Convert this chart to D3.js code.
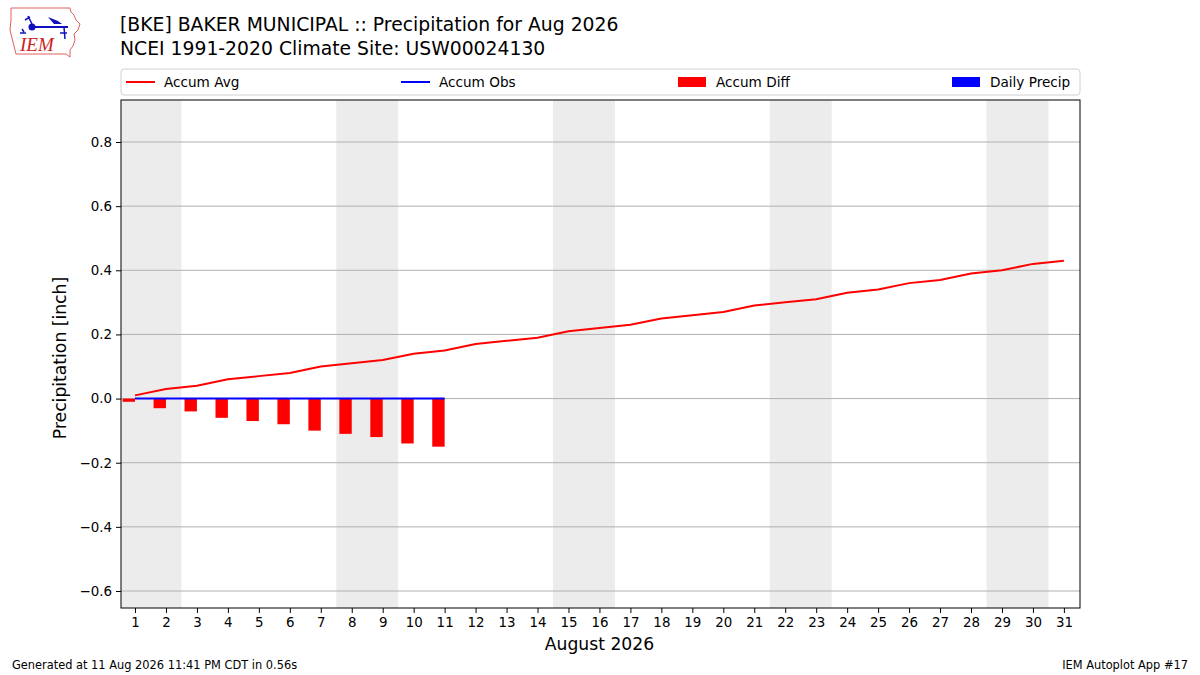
<!DOCTYPE html>
<html>
<head>
<meta charset="utf-8">
<script src="https://cdn.jsdelivr.net/npm/d3@7/dist/d3.min.js"></script>
<style>
  body { margin: 0; background: #fff; }
  svg { font-family: "DejaVu Sans", sans-serif; }
</style>
</head>
<body>
<div id="chart"></div>
<script>
// Precipitation accumulation chart for Aug 2026

var days = d3.range(1, 32);
var accumAvg = [0.01, 0.03, 0.04, 0.06, 0.07, 0.08, 0.10, 0.11, 0.12, 0.14, 0.15,
    0.17, 0.18, 0.19, 0.21, 0.22, 0.23, 0.25, 0.26, 0.27, 0.29, 0.30, 0.31,
    0.33, 0.34, 0.36, 0.37, 0.39, 0.40, 0.42, 0.43];
var obsDays = [1, 2, 3, 4, 5, 6, 7, 8, 9, 10, 11];
var accumObs = [0, 0, 0, 0, 0, 0, 0, 0, 0, 0, 0];
var accumDiff = [-0.01, -0.03, -0.04, -0.06, -0.07, -0.08, -0.10, -0.11, -0.12, -0.14, -0.15];
var dailyPrecip = [0, 0, 0, 0, 0, 0, 0, 0, 0, 0, 0];
var weekends = [[1, 2], [8, 9], [15, 16], [22, 23], [29, 30]];
var yTicks = [-0.6, -0.4, -0.2, 0.0, 0.2, 0.4, 0.6, 0.8];

var margin = {top: 100, right: 120, bottom: 67, left: 121};
var width = 1200, height = 675;
var w = width - margin.left - margin.right,
    h = height - margin.top - margin.bottom;

var svg = d3.select("#chart").append("svg")
    .attr("width", width)
    .attr("height", height);

var x = d3.scaleLinear().domain([0.548, 31.52]).range([0, w]);
var y = d3.scaleLinear().domain([-0.653, 0.931]).range([h, 0]);

var g = svg.append("g")
    .attr("transform", "translate(" + margin.left + "," + margin.top + ")");

g.append("clipPath").attr("id", "clip")
    .append("rect").attr("width", w).attr("height", h);

var plot = g.append("g").attr("clip-path", "url(#clip)");

// weekend shading
plot.selectAll("rect.wknd")
    .data(weekends)
    .enter().append("rect")
    .attr("class", "wknd")
    .attr("x", function(d) { return x(d[0] - 0.5); })
    .attr("width", function(d) { return x(d[1] + 0.5) - x(d[0] - 0.5); })
    .attr("y", 0)
    .attr("height", h)
    .attr("fill", "#ececec");

// grid
plot.selectAll("line.grid")
    .data(yTicks)
    .enter().append("line")
    .attr("class", "grid")
    .attr("x1", 0).attr("x2", w)
    .attr("y1", function(d) { return y(d); })
    .attr("y2", function(d) { return y(d); })
    .attr("stroke", "#b0b0b0")
    .attr("stroke-width", 1);

// accum diff bars
plot.selectAll("rect.diff")
    .data(accumDiff)
    .enter().append("rect")
    .attr("class", "diff")
    .attr("x", function(d, i) { return x(obsDays[i] - 0.4); })
    .attr("width", function(d, i) { return x(obsDays[i]) - x(obsDays[i] - 0.4); })
    .attr("y", function(d) { return y(Math.max(0, d)); })
    .attr("height", function(d) { return Math.abs(y(d) - y(0)); })
    .attr("fill", "#ff0000");

// daily precip bars
plot.selectAll("rect.daily")
    .data(dailyPrecip)
    .enter().append("rect")
    .attr("class", "daily")
    .attr("x", function(d, i) { return x(obsDays[i]); })
    .attr("width", function(d, i) { return x(obsDays[i] + 0.4) - x(obsDays[i]); })
    .attr("y", function(d) { return y(d); })
    .attr("height", function(d) { return y(0) - y(d); })
    .attr("fill", "#0000ff");

var line = d3.line()
    .x(function(d) { return x(d[0]); })
    .y(function(d) { return y(d[1]); });

plot.append("path")
    .datum(days.map(function(d, i) { return [d, accumAvg[i]]; }))
    .attr("d", line)
    .attr("fill", "none")
    .attr("stroke", "#ff0000")
    .attr("stroke-width", 2);

plot.append("path")
    .datum(obsDays.map(function(d, i) { return [d, accumObs[i]]; }))
    .attr("d", line)
    .attr("fill", "none")
    .attr("stroke", "#0000ff")
    .attr("stroke-width", 2);

// axes
var xAxis = g.append("g")
    .attr("transform", "translate(0," + h + ")")
    .call(d3.axisBottom(x).tickValues(days).tickFormat(d3.format("d")).tickSize(5).tickPadding(4));

var yAxis = g.append("g")
    .call(d3.axisLeft(y).tickValues(yTicks).tickSize(5).tickPadding(4)
        .tickFormat(function(d) { return d3.format(".1f")(d).replace("-", "\u2212"); }));

[xAxis, yAxis].forEach(function(a) {
    a.select(".domain").remove();
    a.selectAll("text").attr("font-size", 13.4).attr("fill", "#000")
        .attr("font-family", "DejaVu Sans");
    a.selectAll("line").attr("stroke", "#000");
});

g.append("rect")
    .attr("width", w).attr("height", h)
    .attr("fill", "none").attr("stroke", "#000").attr("stroke-width", 1);

g.append("text")
    .attr("x", x(16)).attr("y", h + 42)
    .attr("text-anchor", "middle")
    .attr("font-size", 17.2)
    .text("August 2026");

g.append("text")
    .attr("transform", "translate(-55," + (h / 2 + 4) + ") rotate(-90)")
    .attr("text-anchor", "middle")
    .attr("font-size", 17.2)
    .text("Precipitation [inch]");

// title
svg.append("text").attr("x", 120).attr("y", 31).attr("font-size", 18.8)
    .text("[BKE] BAKER MUNICIPAL :: Precipitation for Aug 2026");
svg.append("text").attr("x", 120).attr("y", 55).attr("font-size", 18.8)
    .text("NCEI 1991-2020 Climate Site: USW00024130");

// legend
var legend = svg.append("g").attr("transform", "translate(121,69)");
legend.append("rect")
    .attr("width", w).attr("height", 26).attr("rx", 3)
    .attr("fill", "#fff").attr("stroke", "#d0d0d0");

var legendItems = [
    {label: "Accum Avg", color: "#ff0000", type: "line", x: 5},
    {label: "Accum Obs", color: "#0000ff", type: "line", x: 280},
    {label: "Accum Diff", color: "#ff0000", type: "rect", x: 557},
    {label: "Daily Precip", color: "#0000ff", type: "rect", x: 831}
];

var li = legend.selectAll("g.item")
    .data(legendItems)
    .enter().append("g")
    .attr("class", "item")
    .attr("transform", function(d) { return "translate(" + d.x + ",13)"; });

li.filter(function(d) { return d.type === "line"; })
    .append("line")
    .attr("x1", 0).attr("x2", 29)
    .attr("stroke", function(d) { return d.color; })
    .attr("stroke-width", 2);

li.filter(function(d) { return d.type === "rect"; })
    .append("rect")
    .attr("x", 0).attr("y", -5).attr("width", 28).attr("height", 10)
    .attr("fill", function(d) { return d.color; });

li.append("text")
    .attr("x", 38).attr("dy", "0.35em")
    .attr("font-size", 13.6)
    .text(function(d) { return d.label; });

// footer
svg.append("text").attr("x", 12).attr("y", 669).attr("font-size", 11.4)
    .text("Generated at 11 Aug 2026 11:41 PM CDT in 0.56s");
svg.append("text").attr("x", 1188).attr("y", 669).attr("font-size", 11.4)
    .attr("text-anchor", "end")
    .text("IEM Autoplot App #17");

// logo
var logo = svg.append("g").attr("transform", "translate(8,6)");
logo.append("path")
    .attr("d", "M3,2 L62,2 L63,6 L66,9 L68,14 L72,18 L70,24 L66,28 L67,34 L65,40 L62,44 L62,51 L58,48 L8,48 L6,40 L4,32 L2,24 L3,14 Z")
    .attr("fill", "#fff").attr("stroke", "#e06060").attr("stroke-width", 1);
logo.append("line").attr("x1", 24).attr("y1", 21).attr("x2", 60).attr("y2", 21)
    .attr("stroke", "#1010c0").attr("stroke-width", 2.2);
logo.append("circle").attr("cx", 24).attr("cy", 21).attr("r", 3.5).attr("fill", "#1010c0");
logo.append("path").attr("d", "M40,11 L50,15 L54,18 L46,18 Z").attr("fill", "#1010c0");
logo.append("path").attr("d", "M20,10 L24,18 M17,14 L22,11 M56,21 L57,33 M52,27 L59,27 M14,23 L16,26 M12,27 L18,27")
    .attr("stroke", "#1010c0").attr("stroke-width", 1.5).attr("fill", "none");
logo.append("text").attr("x", 12).attr("y", 45)
    .attr("font-family", "Liberation Serif, serif").attr("font-style", "italic")
    .attr("font-size", 19).attr("fill", "#d02020").text("IEM");
</script>
</body>
</html>
